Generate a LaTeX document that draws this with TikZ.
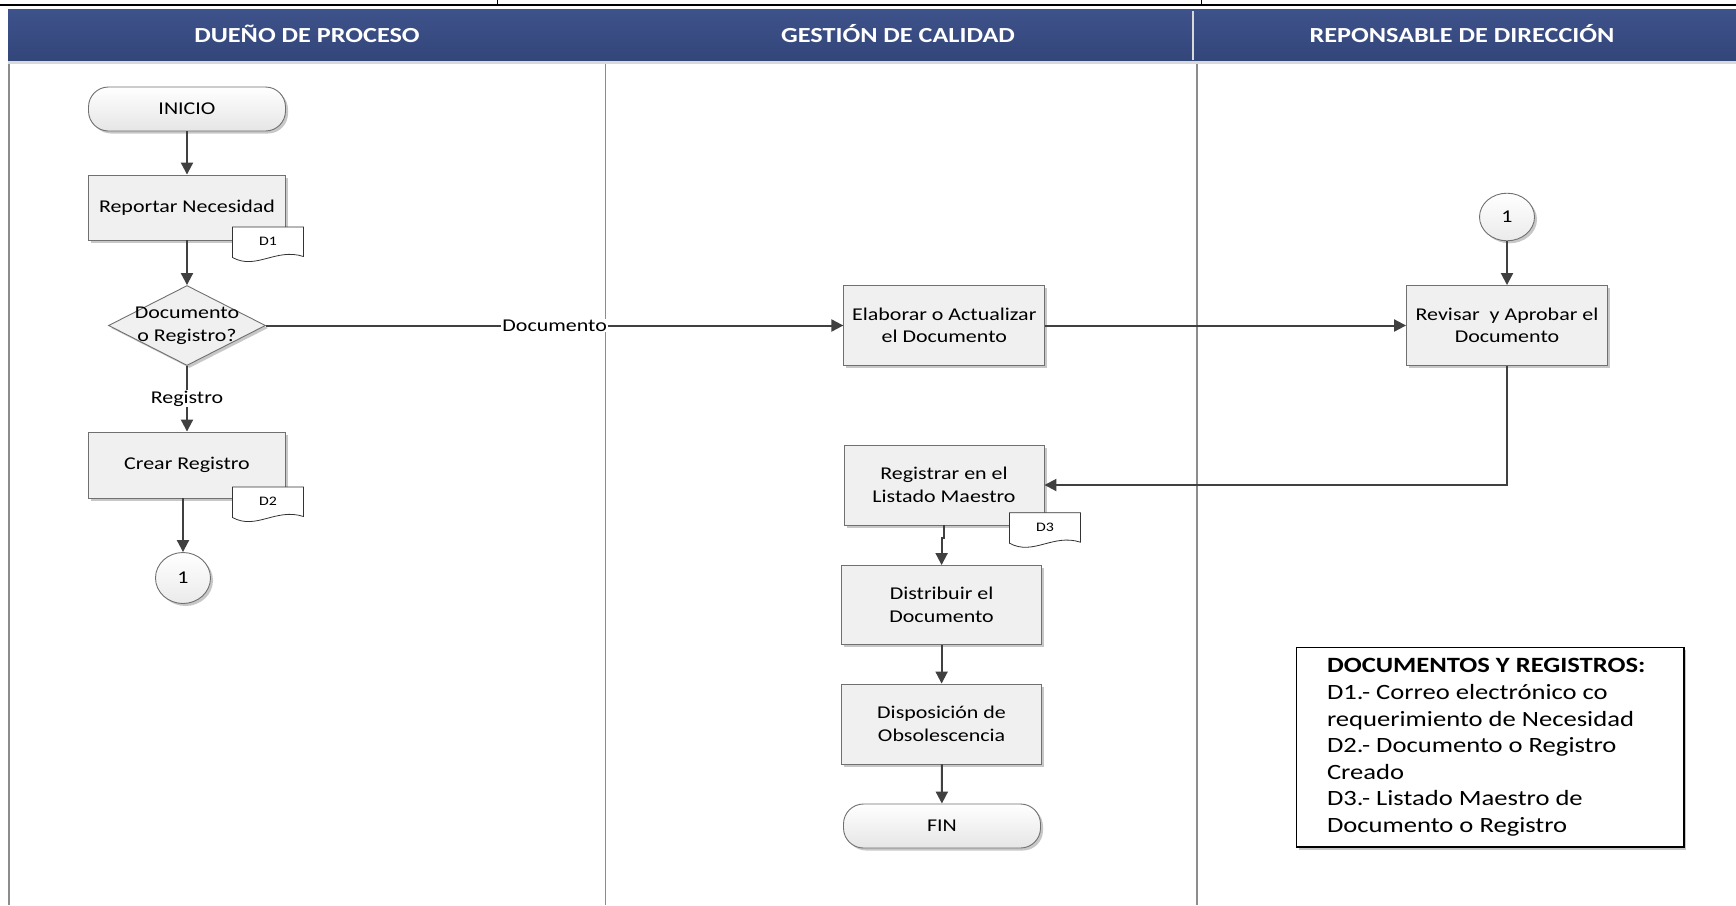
\documentclass[tikz,border=0pt]{standalone}
\usepackage{fontspec}
\setmainfont{Carlito}[FakeStretch=1.22]
\usetikzlibrary{arrows.meta,shapes.geometric,shadows}

\definecolor{hdrtop}{HTML}{3E528B}
\definecolor{hdrbot}{HTML}{33467A}
\definecolor{boxline}{HTML}{707070}
\definecolor{boxfill}{HTML}{F0F0F0}
\definecolor{arrowgray}{HTML}{404040}
\definecolor{lanegray}{HTML}{8C8C8C}

\tikzset{
  boxshadow/.style={drop shadow={shadow xshift=2.5pt, shadow yshift=-2.5pt, opacity=0.22, fill=black}},
  flow/.style={draw=boxline, line width=0.9pt, boxshadow, align=center, inner sep=2pt,
    font=\fontsize{18}{22.5}\selectfont, text=black},
  procbox/.style={flow, fill=boxfill, minimum width=200, minimum height=80},
  termbox/.style={flow, rounded corners=20pt, top color=white, bottom color=black!10,
    minimum width=197, minimum height=44},
  connbox/.style={flow, ellipse, top color=white, bottom color=black!8, inner sep=0pt,
    minimum width=55, minimum height=49},
  decision/.style={flow, diamond, fill=boxfill, inner sep=0pt, minimum width=157, minimum height=80},
  docline/.style={draw=black!80, line width=0.8pt, fill=white},
  doctext/.style={inner sep=0pt, font=\fontsize{13}{15}\selectfont},
  flowarrow/.style={draw=arrowgray, line width=2pt, -{Triangle[length=12pt,width=12pt]}},
  flowlabel/.style={fill=white, inner sep=1pt, font=\fontsize{18}{22}\selectfont},
  lane/.style={draw=lanegray, line width=1.3pt},
  hdrtext/.style={text=white, font=\fontsize{21.5}{26}\selectfont\bfseries},
  legendbox/.style={draw=black, line width=1.3pt, fill=white, boxshadow,
    minimum width=387.5, minimum height=199.3},
}

% document symbol: name, centre x, centre y, label
\newcommand\docsymbol[4]{%
  \draw[docline] (#2-35.5,#3-16.5) -- (#2+35.5,#3-16.5) -- (#2+35.5,#3+13)
    .. controls (#2+8,#3+4) and (#2-12,#3+27) .. (#2-35.5,#3+14) -- cycle;
  \node[doctext] (#1) at (#2,#3-2) {#4};}

\begin{document}
\begin{tikzpicture}[x=1pt,y=-1pt]
\useasboundingbox (0,0) rectangle (1736,905);
\fill[white] (0,0) rectangle (1736,905);

% top rule of the page
\draw[black, line width=2.5pt] (0,5) -- (1736,5);
\draw[black, line width=1pt] (497,0) -- (497,5);
\draw[black, line width=1pt] (1201,0) -- (1201,5);

% header band
\shade[top color=hdrtop, bottom color=hdrbot] (8,9) rectangle (1736,61);
\fill[black!15] (8,61) rectangle (1736,64);
\draw[white!70!gray, line width=1.5pt] (1193,11) -- (1193,60);
\node[hdrtext] (h1) at (307,34) {DUEÑO DE PROCESO};
\node[hdrtext] (h2) at (898,34) {GESTIÓN DE CALIDAD};
\node[hdrtext] (h3) at (1462,34) {REPONSABLE DE DIRECCIÓN};

% swim lanes
\draw[lane] (9,64) -- (9,905);
\draw[lane] (605.5,64) -- (605.5,905);
\draw[lane] (1197,64) -- (1197,905);

% ---- lane 1: process owner
\node[termbox] (inicio) at (187,109) {INICIO};
\node[procbox, minimum width=197, minimum height=65] (reportar) at (187,207.5) {Reportar Necesidad};
\docsymbol{d1}{268}{243.5}{D1}
\node[decision, label={[align=center, font=\fontsize{18}{23}\selectfont]center:Documento\\o Registro?}] (decide) at (187,325.5) {};
\node[procbox, minimum width=197, minimum height=66] (crear) at (187,465) {Crear Registro};
\docsymbol{d2}{268}{503.5}{D2}
\node[connbox, minimum height=51] (c1a) at (183,578) {1};

% ---- lane 2: quality management
\node[procbox, minimum width=201] (elaborar) at (944.3,325.5) {Elaborar o Actualizar\\el Documento};
\node[procbox] (registrar) at (944,485) {Registrar en el\\Listado Maestro};
\docsymbol{d3}{1045}{529.2}{D3}
\node[procbox, minimum height=79] (distribuir) at (941.6,605) {Distribuir el\\Documento};
\node[procbox] (disposicion) at (941.6,724) {Disposición de\\Obsolescencia};
\node[termbox] (fin) at (942,826) {FIN};

% ---- lane 3: management
\node[connbox, minimum height=47.6] (c1b) at (1507,217) {1};
\node[procbox, minimum width=201] (revisar) at (1507,325.5) {Revisar\ \ y Aprobar el\\Documento};

% legend
\node[legendbox] (legend) at (1490.2,747.4) {};
\node[anchor=west, align=left, inner sep=0pt, font=\fontsize{21.8}{26.6}\selectfont]
  (legendtext) at ([xshift=31pt]legend.west)
  {\textbf{DOCUMENTOS Y REGISTROS:}\\
   D1.- Correo electrónico co\\
   requerimiento de Necesidad\\
   D2.- Documento o Registro\\
   Creado\\
   D3.- Listado Maestro de\\
   Documento o Registro};

% connectors
\draw[flowarrow] (inicio) -- (reportar);
\draw[flowarrow] (reportar) -- (decide);
\draw[flowarrow] (decide.east) -- node[flowlabel, pos=0.5] (lbldoc) {Documento} (elaborar.west);
\draw[flowarrow] (decide.south) -- node[flowlabel] (lblreg) {Registro} (crear.north);
\draw[flowarrow] (crear.south -| c1a.north) -- (c1a.north);
\draw[flowarrow] (elaborar.east) -- (revisar.west);
\draw[flowarrow] (c1b) -- (revisar);
\draw[flowarrow] (revisar.south) |- (registrar.east);
\draw[flowarrow] (registrar.south) -- ++(0,13) -| (distribuir.north);
\draw[flowarrow] (distribuir) -- (disposicion);
\draw[flowarrow] (disposicion) -- (fin);
\end{tikzpicture}
\end{document}
